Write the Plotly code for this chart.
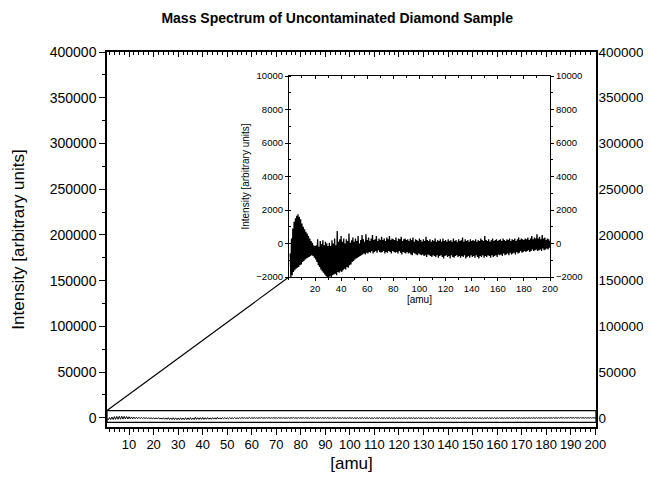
import plotly.graph_objects as go

# ---------------- data ----------------
# Intensity peaks (upper excursions) at integer amu 1..200
amu = list(range(1, 201))
peak_intensity = [
    -600, 300, 900, 1300, 1500, 1650, 1750, 1600, 1450, 1200,
    1000, 850, 700, 600, 450, 300, 150, 50, -100, -150,
    -100, 250, -200, 150, -50, 200, -100, 100, 0, -150,
    50, -150, 200, 0, 300, -100, 750, 100, 250, 450,
    100, 300, 0, 250, 150, 600, 50, 200, 350, 100,
    300, 150, 450, 0, 200, 500, 250, 100, 550, 200,
    350, 150, 300, 500, 200, 250, 450, 150, 300, 200,
    400, 200, 300, 150, 350, 250, 450, 200, 300, 250,
    200, 350, 150, 300, 250, 400, 150, 250, 300, 200,
    250, 150, 300, 200, 350, 100, 250, 200, 150, 300,
    200, 100, 250, 150, 400, 200, 150, 250, 100, 200,
    150, 300, 100, 200, 150, 250, 100, 300, 150, 200,
    100, 250, 150, 200, 100, 300, 150, 200, 100, 250,
    150, 200, 350, 100, 250, 150, 200, 100, 250, 150,
    200, 150, 250, 100, 200, 150, 300, 200, 150, 450,
    200, 150, 250, 100, 200, 300, 150, 200, 250, 150,
    200, 250, 150, 300, 200, 150, 250, 200, 300, 150,
    250, 200, 300, 150, 250, 350, 200, 300, 250, 200,
    300, 250, 350, 200, 300, 450, 250, 350, 300, 550,
    300, 400, 250, 500, 300, 350, 200, 300, 250, 150,
]
# Intensity troughs (lower excursions) at amu + 0.5
trough_intensity = [
    -2000, -1900, -1700, -1600, -1500, -1450, -1400, -1300, -1250, -1100,
    -1050, -950, -900, -850, -800, -750, -700, -750, -850, -950,
    -1100, -1300, -1400, -1550, -1650, -1750, -1850, -1950, -2000, -2000,
    -1950, -2000, -1900, -1850, -1800, -1900, -1700, -1750, -1650, -1700,
    -1600, -1500, -1550, -1400, -1450, -1300, -1250, -1100, -1050, -950,
    -900, -850, -800, -750, -700, -650, -600, -650, -550, -600,
    -500, -550, -450, -600, -500, -450, -550, -400, -500, -550,
    -500, -450, -600, -500, -550, -450, -500, -600, -450, -500,
    -550, -500, -600, -450, -550, -650, -500, -550, -600, -500,
    -600, -550, -650, -700, -550, -600, -650, -700, -600, -650,
    -700, -650, -750, -700, -800, -650, -700, -750, -800, -700,
    -750, -800, -700, -850, -750, -700, -800, -900, -750, -700,
    -800, -750, -900, -700, -800, -850, -750, -700, -800, -750,
    -850, -750, -800, -700, -900, -800, -750, -850, -700, -800,
    -750, -850, -700, -800, -900, -750, -800, -700, -850, -750,
    -800, -700, -750, -850, -700, -800, -750, -700, -800, -650,
    -700, -650, -750, -600, -700, -650, -600, -700, -550, -650,
    -600, -550, -650, -500, -600, -550, -450, -550, -500, -450,
    -500, -450, -400, -500, -450, -350, -450, -400, -350, -450,
    -400, -350, -450, -300, -400, -350, -300, -350, -250, -300,
]

main_y_ticks = [0, 50000, 100000, 150000, 200000, 250000, 300000, 350000, 400000]
main_x_ticks = list(range(10, 201, 10))
inset_y_ticks = [-2000, 0, 2000, 4000, 6000, 8000, 10000]
inset_x_ticks = list(range(20, 201, 20))

# Build the measured trace: each amu gives a peak sample then a trough sample
x_vals, y_vals = [], []
for a, hi, lo in zip(amu, peak_intensity, trough_intensity):
    x_vals += [a, a + 0.5]
    y_vals += [hi, lo]

MAIN_X = [1, 200.3]
MAIN_Y = [-10000, 400000]
INSET_X = [0, 200]
INSET_Y = [-2000, 10000]
ZOOM_BOX = [-5000, 8000]

FONT = "Liberation Sans, Arial, sans-serif"
INSET_DX = [0.372, 0.906]
INSET_DY = [0.40, 0.936]

fig = go.Figure()
fig.add_trace(go.Scatter(x=x_vals, y=y_vals, mode="lines", line=dict(color="black", width=1),
                         xaxis="x", yaxis="y", showlegend=False, hoverinfo="skip"))
fig.add_trace(go.Scatter(x=x_vals, y=y_vals, mode="lines", line=dict(color="black", width=1.3),
                         xaxis="x2", yaxis="y2", showlegend=False, hoverinfo="skip"))
# invisible copies so that the mirrored (top / right) axes are drawn
fig.add_trace(go.Scatter(x=x_vals, y=y_vals, mode="lines", opacity=0,
                         xaxis="x3", yaxis="y3", showlegend=False, hoverinfo="skip"))
fig.add_trace(go.Scatter(x=x_vals, y=y_vals, mode="lines", opacity=0,
                         xaxis="x4", yaxis="y4", showlegend=False, hoverinfo="skip"))

ax_common = dict(showgrid=False, zeroline=False, showline=True, linecolor="black",
                 linewidth=1.5, tickcolor="black", tickwidth=1.2)
ax_inset = {**ax_common, "linewidth": 1, "tickwidth": 1}

fig.update_layout(
    width=643, height=471,
    margin=dict(l=99, r=55, t=44, b=52, autoexpand=False),
    paper_bgcolor="white", plot_bgcolor="white",
    font=dict(family=FONT, color="black"),
    title=dict(text="<b>Mass Spectrum of Uncontaminated Diamond Sample</b>",
               x=0.512, xanchor="center", xref="container", y=0.979, yanchor="middle",
               yref="container", font=dict(size=14, family=FONT)),
    xaxis=dict(**ax_common, range=MAIN_X, domain=[0, 1], anchor="y",
               tickvals=main_x_ticks, ticks="outside", ticklen=6,
               tickfont=dict(size=13), ticklabelstandoff=-1,
               minor=dict(dtick=2, tick0=0, ticks="outside", ticklen=3, tickcolor="black", tickwidth=1),
               title=dict(text="[amu]", font=dict(size=17), standoff=6)),
    xaxis3=dict(**ax_common, range=MAIN_X, overlaying="x", side="top", anchor="y",
                tickvals=main_x_ticks, ticks="inside", ticklen=5, showticklabels=False,
                minor=dict(dtick=2, tick0=0, ticks="inside", ticklen=3, tickcolor="black", tickwidth=1)),
    yaxis=dict(**ax_common, range=MAIN_Y, domain=[0, 1], anchor="x",
               tickvals=main_y_ticks, ticks="outside", ticklen=6,
               tickfont=dict(size=14), tickformat="d",
               minor=dict(dtick=25000, tick0=0, ticks="outside", ticklen=3, tickcolor="black", tickwidth=1),
               title=dict(text="Intensity [arbitrary units]", font=dict(size=17), standoff=21)),
    yaxis3=dict(**ax_common, range=MAIN_Y, overlaying="y", side="right", anchor="x",
                tickvals=main_y_ticks, ticks="", tickfont=dict(size=13.5), tickformat="d",
                ticklabelstandoff=-2),
    # inset
    xaxis2=dict(**ax_inset, range=INSET_X, domain=INSET_DX, anchor="y2",
                tickvals=inset_x_ticks, ticks="outside", ticklen=3,
                tickfont=dict(size=9.5),
                minor=dict(dtick=10, tick0=0, ticks="outside", ticklen=2, tickcolor="black", tickwidth=1),
                title=dict(text="[amu]", font=dict(size=10), standoff=2)),
    xaxis4=dict(**ax_inset, range=INSET_X, overlaying="x2", side="top", anchor="y2",
                tickvals=inset_x_ticks, ticks="inside", ticklen=3, showticklabels=False,
                minor=dict(dtick=10, tick0=0, ticks="inside", ticklen=2, tickcolor="black", tickwidth=1)),
    yaxis2=dict(**ax_inset, range=INSET_Y, domain=INSET_DY, anchor="x2",
                tickvals=inset_y_ticks, ticks="outside", ticklen=3,
                tickfont=dict(size=9.5), tickformat="d",
                minor=dict(dtick=1000, tick0=0, ticks="inside", ticklen=2, tickcolor="black", tickwidth=1),
                title=dict(text="Intensity [arbitrary units]", font=dict(size=10), standoff=4)),
    yaxis4=dict(**ax_inset, range=INSET_Y, overlaying="y2", side="right", anchor="x2",
                tickvals=inset_y_ticks, ticks="outside", ticklen=3,
                tickfont=dict(size=9.5), tickformat="d",
                minor=dict(dtick=1000, tick0=0, ticks="outside", ticklen=2, tickcolor="black", tickwidth=1)),
)

# zoom box around the baseline in the main plot
fig.add_shape(type="rect", xref="x", yref="y", x0=MAIN_X[0], x1=MAIN_X[1],
              y0=ZOOM_BOX[0], y1=ZOOM_BOX[1], line=dict(color="black", width=1.2))
# connector from box corner to inset corner
y_box_paper = (ZOOM_BOX[1] - MAIN_Y[0]) / (MAIN_Y[1] - MAIN_Y[0])
fig.add_shape(type="line", xref="paper", yref="paper", x0=0, y0=y_box_paper,
              x1=INSET_DX[0], y1=INSET_DY[0], line=dict(color="black", width=1.2))

fig.write_html("out.html")
